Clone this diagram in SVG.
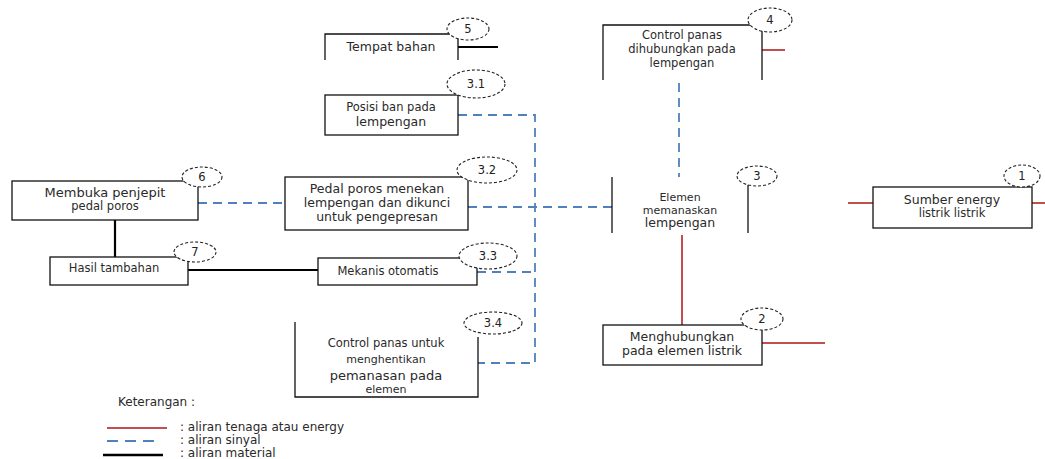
<svg xmlns="http://www.w3.org/2000/svg" width="1045" height="459" viewBox="0 0 1045 459">
<style>
  .box{fill:#fff;stroke:#111;stroke-width:1.3}
  .side{fill:none;stroke:#111;stroke-width:1.3}
  .num{fill:#fff;stroke:#222;stroke-width:1.1;stroke-dasharray:3 2}
  .t{font-family:"DejaVu Sans",sans-serif;font-size:12.5px;fill:#2a2a2a;text-anchor:middle}
  .n{font-family:"DejaVu Sans",sans-serif;font-size:11.5px;fill:#222;text-anchor:middle}
  .lg{font-family:"DejaVu Sans",sans-serif;font-size:12px;fill:#2a2a2a}
  .mat{fill:none;stroke:#000;stroke-width:2.2}
  .sig{fill:none;stroke:#4f81bd;stroke-width:1.8;stroke-dasharray:9 6}
  .pow{fill:none;stroke:#c0504d;stroke-width:2}
</style>
<rect width="1045" height="459" fill="#fff"/>

<g id="connectors">
  <line class="mat" x1="458" y1="47" x2="498" y2="47"/>
  <line class="mat" x1="115" y1="220" x2="115" y2="257"/>
  <line class="mat" x1="188" y1="270" x2="318" y2="270"/>
  <path class="sig" d="M458,115 H535 V363 H478"/>
  <line class="sig" x1="198" y1="203" x2="285" y2="203"/>
  <line class="sig" x1="468" y1="207" x2="612" y2="207"/>
  <line class="sig" x1="477" y1="272" x2="535" y2="272"/>
  <line class="sig" x1="679" y1="83" x2="679" y2="177"/>
  <line class="pow" x1="762" y1="50" x2="785" y2="50"/>
  <line class="pow" x1="682" y1="235" x2="682" y2="325"/>
  <line class="pow" x1="762" y1="343" x2="825" y2="343"/>
  <line class="pow" x1="848" y1="203" x2="873" y2="203"/>
  <line class="pow" x1="1032" y1="203" x2="1045" y2="203"/>
</g>

<g id="node-5">
  <path class="side" d="M325,60 V34 H458 V60"/>
  <text class="t" x="391" y="51">Tempat bahan</text>
  <ellipse class="num" cx="468" cy="29" rx="21" ry="11"/>
  <text class="n" x="468" y="33">5</text>
</g>

<g id="node-3-1">
  <rect class="box" x="325" y="95" width="133" height="40"/>
  <text class="t" x="391" y="111" style="font-size:11.5px">Posisi ban pada</text>
  <text class="t" x="391" y="126">lempengan</text>
  <ellipse class="num" cx="476" cy="84" rx="29" ry="14"/>
  <text class="n" x="476" y="88">3.1</text>
</g>

<g id="node-3-2">
  <rect class="box" x="285" y="177" width="183" height="53"/>
  <text class="t" x="377" y="193">Pedal poros menekan</text>
  <text class="t" x="377" y="207">lempengan dan dikunci</text>
  <text class="t" x="377" y="221">untuk pengepresan</text>
  <ellipse class="num" cx="487" cy="170" rx="30" ry="13"/>
  <text class="n" x="487" y="174">3.2</text>
</g>

<g id="node-3-3">
  <rect class="box" x="318" y="258" width="159" height="27"/>
  <text class="t" x="388" y="275" style="font-size:11.5px">Mekanis otomatis</text>
  <ellipse class="num" cx="488" cy="256" rx="29" ry="13"/>
  <text class="n" x="488" y="260">3.3</text>
</g>

<g id="node-3-4">
  <path class="side" d="M295,322 V397 H478 V337"/>
  <text class="t" x="386" y="347" style="font-size:11.5px">Control panas untuk</text>
  <text class="t" x="386" y="363" style="font-size:11px">menghentikan</text>
  <text class="t" x="386" y="380" style="font-size:13px">pemanasan pada</text>
  <text class="t" x="386" y="393" style="font-size:11px">elemen</text>
  <ellipse class="num" cx="493" cy="323" rx="29" ry="11"/>
  <text class="n" x="493" y="327">3.4</text>
</g>

<g id="node-6">
  <rect class="box" x="12" y="181" width="186" height="39"/>
  <text class="t" x="105" y="197" style="font-size:13px">Membuka penjepit</text>
  <text class="t" x="105" y="210" style="font-size:11.5px">pedal poros</text>
  <ellipse class="num" cx="202" cy="177" rx="20" ry="10"/>
  <text class="n" x="202" y="181">6</text>
</g>

<g id="node-7">
  <rect class="box" x="50" y="257" width="138" height="28"/>
  <text class="t" x="114" y="272" style="font-size:11.5px">Hasil tambahan</text>
  <ellipse class="num" cx="195" cy="252" rx="21" ry="10"/>
  <text class="n" x="195" y="256">7</text>
</g>

<g id="node-4">
  <path class="side" d="M603,80 V25 H762 V80"/>
  <text class="t" x="682" y="39" style="font-size:11.5px">Control panas</text>
  <text class="t" x="682" y="53" style="font-size:11.5px">dihubungkan pada</text>
  <text class="t" x="682" y="67" style="font-size:11.5px">lempengan</text>
  <ellipse class="num" cx="770" cy="20" rx="22" ry="12"/>
  <text class="n" x="770" y="24">4</text>
</g>

<g id="node-3">
  <line class="side" x1="612" y1="177" x2="612" y2="233"/>
  <line class="side" x1="748" y1="180" x2="748" y2="233"/>
  <text class="t" x="680" y="201" style="font-size:11px">Elemen</text>
  <text class="t" x="680" y="214" style="font-size:11px">memanaskan</text>
  <text class="t" x="680" y="227">lempengan</text>
  <ellipse class="num" cx="757" cy="176" rx="20" ry="10"/>
  <text class="n" x="757" y="180">3</text>
</g>

<g id="node-2">
  <rect class="box" x="603" y="325" width="159" height="40"/>
  <text class="t" x="682" y="341">Menghubungkan</text>
  <text class="t" x="682" y="355">pada elemen listrik</text>
  <ellipse class="num" cx="762" cy="319" rx="21" ry="11"/>
  <text class="n" x="762" y="323">2</text>
</g>

<g id="node-1">
  <rect class="box" x="873" y="187" width="159" height="41"/>
  <text class="t" x="952" y="204">Sumber energy</text>
  <text class="t" x="952" y="217" style="font-size:11.5px">listrik listrik</text>
  <ellipse class="num" cx="1022" cy="176" rx="18" ry="11"/>
  <text class="n" x="1022" y="180">1</text>
</g>

<g id="legend">
  <text class="lg" x="118" y="406">Keterangan :</text>
  <line class="pow" x1="107" y1="428" x2="167" y2="428"/>
  <text class="lg" x="180" y="431">: aliran tenaga atau energy</text>
  <line class="sig" x1="107" y1="441" x2="160" y2="441" style="stroke-dasharray:11 7"/>
  <text class="lg" x="180" y="444">: aliran sinyal</text>
  <line class="mat" x1="103" y1="455" x2="163" y2="455" style="stroke-width:2.5"/>
  <text class="lg" x="180" y="457">: aliran material</text>
</g>
</svg>
